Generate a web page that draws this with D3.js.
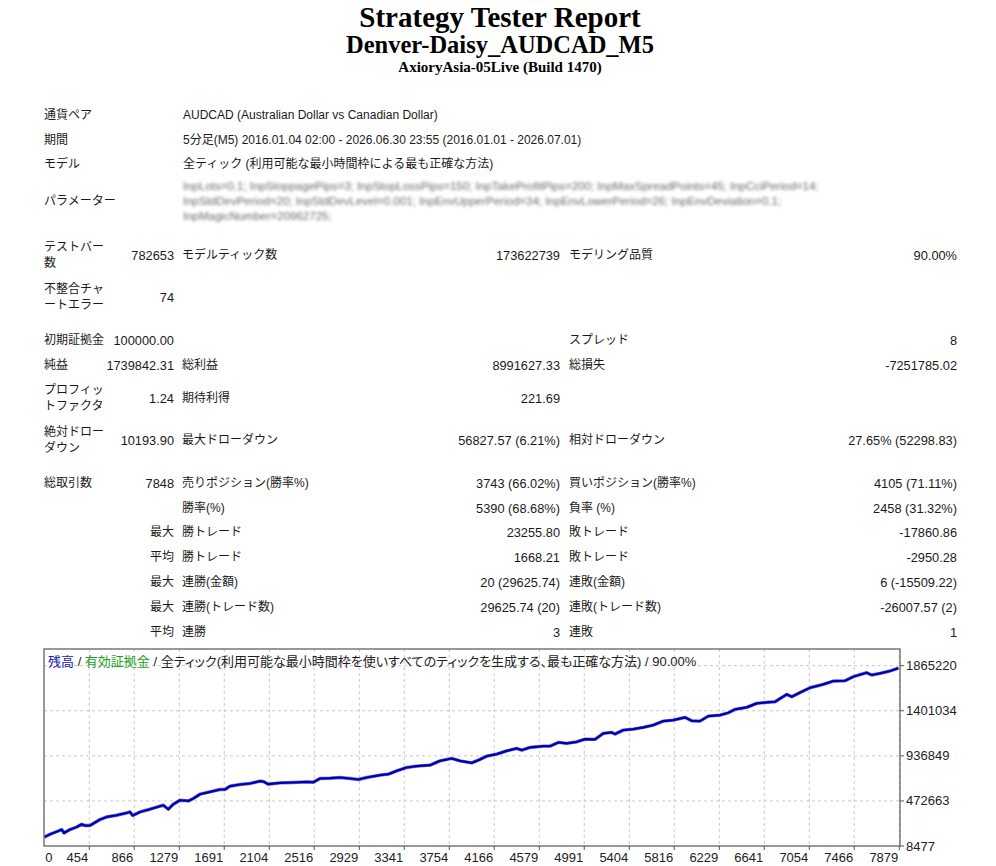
<!DOCTYPE html>
<html><head><meta charset="utf-8">
<script src="https://cdn.jsdelivr.net/npm/d3@7/dist/d3.min.js"></script>
<style>
html,body{margin:0;padding:0;background:#fff;}
svg{display:block;}
.lbl{font-family:"Liberation Sans","Noto Sans CJK JP",sans-serif;font-size:12px;fill:#1a1a1a;}
.val{font-family:"Liberation Sans","Noto Sans CJK JP",sans-serif;font-size:12.8px;fill:#1a1a1a;}
.ttl{font-family:"Liberation Serif","Times New Roman",serif;font-weight:bold;fill:#000;}
.ax{font-family:"Liberation Sans","DejaVu Sans",sans-serif;font-size:13px;fill:#222;}
.leg{font-family:"Liberation Sans","Noto Sans CJK JP",sans-serif;font-size:13px;font-feature-settings:"palt";}
</style></head>
<body>
<script>
// ---------- DATA ----------
const titles = ["Strategy Tester Report", "Denver-Daisy_AUDCAD_M5", "AxioryAsia-05Live (Build 1470)"];

const infoLabels = ["通貨ペア", "期間", "モデル", "パラメーター"];
const infoValues = [
  "AUDCAD (Australian Dollar vs Canadian Dollar)",
  "5分足(M5) 2016.01.04 02:00 - 2026.06.30 23:55 (2016.01.01 - 2026.07.01)",
  "全ティック (利用可能な最小時間枠による最も正確な方法)"
];
const paramLines = [
  "InpLots=0.1; InpStoppagePips=3; InpStopLossPips=150; InpTakeProfitPips=200; InpMaxSpreadPoints=45; InpCciPeriod=14;",
  "InpStdDevPeriod=20; InpStdDevLevel=0.001; InpEnvUpperPeriod=34; InpEnvLowerPeriod=26; InpEnvDeviation=0.1;",
  "InpMagicNumber=20962725;"
];

// stats rows: [c1 label, c2 value, c3 label, c4 value, c5 label, c6 value]
const statRows = [
  ["テストバー|数", "782653", "モデルティック数", "173622739", "モデリング品質", "90.00%"],
  ["不整合チャ|ートエラー", "74", "", "", "", ""],
  ["初期証拠金", "100000.00", "", "", "スプレッド", "8"],
  ["純益", "1739842.31", "総利益", "8991627.33", "総損失", "-7251785.02"],
  ["プロフィッ|トファクタ", "1.24", "期待利得", "221.69", "", ""],
  ["絶対ドロー|ダウン", "10193.90", "最大ドローダウン", "56827.57 (6.21%)", "相対ドローダウン", "27.65% (52298.83)"],
  ["総取引数", "7848", "売りポジション(勝率%)", "3743 (66.02%)", "買いポジション(勝率%)", "4105 (71.11%)"],
  ["", "", "勝率(%)", "5390 (68.68%)", "負率 (%)", "2458 (31.32%)"],
  ["", "最大", "勝トレード", "23255.80", "敗トレード", "-17860.86"],
  ["", "平均", "勝トレード", "1668.21", "敗トレード", "-2950.28"],
  ["", "最大", "連勝(金額)", "20 (29625.74)", "連敗(金額)", "6 (-15509.22)"],
  ["", "最大", "連勝(トレード数)", "29625.74 (20)", "連敗(トレード数)", "-26007.57 (2)"],
  ["", "平均", "連勝", "3", "連敗", "1"]
];

// chart
const legendParts = [
  {t: "残高", c: "#2020b0"},
  {t: " / ", c: "#222"},
  {t: "有効証拠金", c: "#1aa01a"},
  {t: " / 全ティック(利用可能な最小時間枠を使いすべてのティックを生成する、最も正確な方法) / 90.00%", c: "#222"}
];
const xTicks = [0, 454, 866, 1279, 1691, 2104, 2516, 2929, 3341, 3754, 4166, 4579, 4991, 5404, 5816, 6229, 6641, 7054, 7466, 7879];
const yTicks = [8477, 472663, 936849, 1401034, 1865220];

const tradeIdx = [0, 94, 170, 201, 222, 277, 339, 384, 415, 460, 491, 552, 614, 705, 797, 827, 852, 919, 1010, 1102,
  1132, 1178, 1224, 1285, 1362, 1407, 1469, 1560, 1652, 1698, 1744, 1835, 1927, 2019, 2049, 2095, 2202, 2324, 2447, 2507,
  2569, 2660, 2752, 2844, 2920, 2997, 3119, 3195, 3272, 3364, 3455, 3577, 3669, 3776, 3852, 3959, 4020, 4097, 4189, 4280,
  4372, 4418, 4494, 4616, 4677, 4753, 4830, 4922, 4998, 5090, 5166, 5243, 5273, 5349, 5441, 5532, 5624, 5716, 5807, 5915,
  5976, 6052, 6128, 6236, 6312, 6373, 6480, 6572, 6664, 6740, 6847, 6893, 6984, 7061, 7182, 7274, 7381, 7457, 7580, 7626,
  7702, 7794, 7870];
const balance = [100000, 129165, 163205, 177646, 142575, 177646, 204466, 232317, 218907, 218907, 239537, 280798, 307618, 325154, 348879, 359194, 322059, 359194, 387045, 417990,
  428306, 387045, 438621, 479882, 472661, 497417, 541773, 565498, 590254, 590254, 624294, 641830, 652145, 675870, 672776, 644925, 658335, 662461, 668650, 665556,
  703721, 706816, 714037, 703721, 693406, 714037, 737762, 748077, 782117, 817189, 830598, 840914, 885269, 910025, 885269, 864639, 892490, 933750, 954381, 988421,
  1013177, 995642, 1023493, 1036902, 1036902, 1075069, 1064754, 1081258, 1109109, 1106014, 1167905, 1178221, 1160685, 1201945, 1212261, 1229797, 1253522, 1294783, 1305098, 1332949,
  1297877, 1294783, 1346357, 1356673, 1380399, 1415470, 1436100, 1477361, 1487676, 1493865, 1570198, 1545442, 1597018, 1638279, 1673350, 1707391, 1710485, 1751746, 1793007, 1769282,
  1786817, 1810542, 1839842];

// ---------- DRAW ----------
const W = 996, H = 866;
const svg = d3.select("body").append("svg").attr("width", W).attr("height", H);
const defs = svg.append("defs");
defs.append("filter").attr("id", "blur").attr("x", "-5%").attr("y", "-50%").attr("width", "110%").attr("height", "200%")
  .append("feGaussianBlur").attr("stdDeviation", 1.8);

// titles
const tSizes = [29, 24.5, 15], tY = [26.5, 53, 72];
titles.forEach((t, i) => {
  svg.append("text").attr("class", "ttl").attr("x", 500).attr("y", tY[i])
    .attr("text-anchor", "middle").style("font-size", tSizes[i] + "px").text(t);
});

// columns
const colX = {c1: 44, c2: 174, c3: 182, c4: 560, c5: 569, c6: 957};

// info rows
const infoY = [115, 140, 164, 201];
infoLabels.forEach((l, i) => {
  svg.append("text").attr("class", "lbl").attr("x", colX.c1).attr("y", infoY[i]).attr("dominant-baseline", "central").text(l);
});
infoValues.forEach((v, i) => {
  svg.append("text").attr("class", "lbl").attr("x", colX.c3 + 1).attr("y", infoY[i]).attr("dominant-baseline", "central").text(v);
});
const pg = svg.append("g").attr("filter", "url(#blur)");
paramLines.forEach((p, i) => {
  pg.append("text").attr("class", "lbl").attr("x", colX.c3 + 1).attr("y", 186 + i * 15)
    .attr("dominant-baseline", "central").style("fill", "#6a6a6a").style("font-size", "11.5px").text(p);
});

// stats
const rowY = [255, 297, 340, 365, 398, 440, 483, 508, 532, 557, 582, 607, 632];
const anchors = ["start", "end", "start", "end", "start", "end"];
const xs = [colX.c1, colX.c2, colX.c3, colX.c4, colX.c5, colX.c6];
statRows.forEach((row, ri) => {
  row.forEach((cell, ci) => {
    if (!cell) return;
    const isVal = (ci % 2 === 1) && /^[-0-9]/.test(cell);
    const lines = cell.split("|");
    lines.forEach((ln, li) => {
      const dy = lines.length > 1 ? (li === 0 ? -8 : 8) : 0;
      svg.append("text").attr("class", isVal ? "val" : "lbl")
        .attr("x", xs[ci]).attr("y", rowY[ri] + dy)
        .attr("text-anchor", anchors[ci]).attr("dominant-baseline", "central").text(ln);
    });
  });
});

// ---------- CHART ----------
const box = {l: 44, t: 649, r: 900, b: 846};
const x = d3.scaleLinear().domain([41.5, 7879]).range([44.3, 899.3]).clamp(true);
const y = d3.scaleLinear().domain([8477, 1865220]).range([box.b, 665.7]);

const cg = svg.append("g");
// grid
cg.selectAll(".gx").data(xTicks.slice(1)).enter().append("line")
  .attr("x1", d => x(d)).attr("x2", d => x(d)).attr("y1", box.t).attr("y2", box.b)
  .attr("stroke", "#c8c8c8").attr("stroke-dasharray", "3,3");
cg.selectAll(".gy").data(yTicks.slice(1)).enter().append("line")
  .attr("x1", box.l).attr("x2", box.r).attr("y1", d => y(d)).attr("y2", d => y(d))
  .attr("stroke", "#c8c8c8").attr("stroke-dasharray", "3,3");

// line
const pts = tradeIdx.map((t, i) => [t, balance[i]]);
const lineGen = d3.line().x(d => x(d[0])).y(d => y(d[1]));
cg.append("path").datum(pts)
  .attr("fill", "none").attr("stroke", "#6a6af0").attr("stroke-width", 3.4).attr("stroke-linejoin", "round")
  .attr("d", lineGen);
cg.append("path").datum(pts)
  .attr("fill", "none").attr("stroke", "#0000a4").attr("stroke-width", 2.2).attr("stroke-linejoin", "round")
  .attr("d", lineGen);

// frame
cg.append("rect").attr("x", box.l).attr("y", box.t).attr("width", box.r - box.l).attr("height", box.b - box.t)
  .attr("fill", "none").attr("stroke", "#6e6e6e").attr("stroke-width", 1.4);

// axes ticks & labels
cg.selectAll(".tx").data(xTicks.slice(1)).enter().append("line")
  .attr("x1", d => x(d)).attr("x2", d => x(d)).attr("y1", box.b).attr("y2", box.b + 4).attr("stroke", "#555");
cg.selectAll(".lx").data(xTicks).enter().append("text").attr("class", "ax")
  .attr("x", (d, i) => i === 0 ? x(d) + 1 : x(d) - 1).attr("y", 862)
  .attr("text-anchor", (d, i) => i === 0 ? "start" : "end").text(d => d);
cg.selectAll(".ty").data(yTicks).enter().append("line")
  .attr("x1", box.r).attr("x2", box.r + 4).attr("y1", d => y(d)).attr("y2", d => y(d)).attr("stroke", "#555");
cg.selectAll(".ly").data(yTicks).enter().append("text").attr("class", "ax")
  .attr("x", 906).attr("y", d => y(d)).attr("dominant-baseline", "central").text(d => d);

// legend
const lt = cg.append("text").attr("class", "leg").attr("x", 48).attr("y", 661).attr("dominant-baseline", "central");
legendParts.forEach(p => lt.append("tspan").attr("fill", p.c).text(p.t));
</script>
</body></html>
